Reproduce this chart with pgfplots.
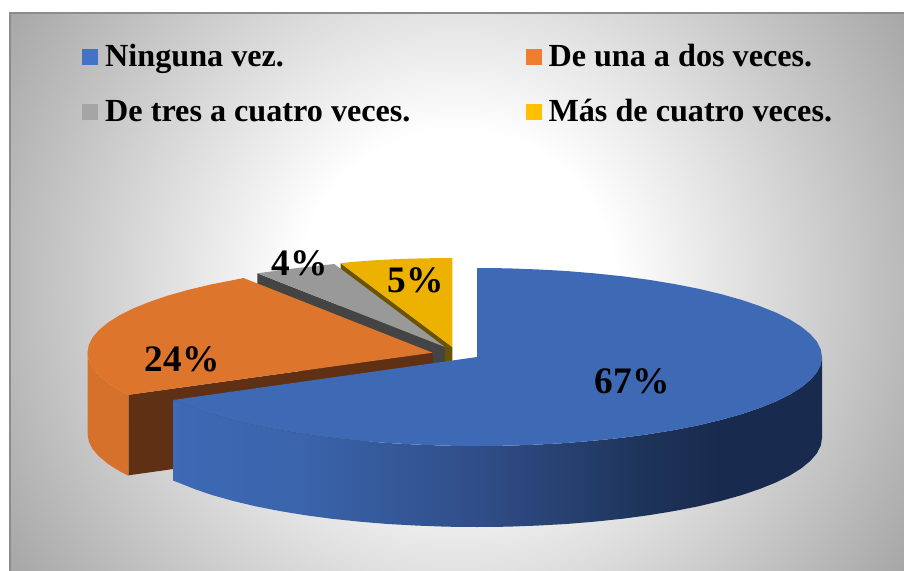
\documentclass[border=0pt]{standalone}
\usepackage{fontspec}
\setmainfont{Liberation Serif}
\usepackage{pgfplots}
\pgfplotsset{compat=1.18}
\definecolor{legblue}{HTML}{4472C4}
\definecolor{legorange}{HTML}{ED7D31}
\definecolor{leggray}{HTML}{A5A5A5}
\definecolor{legyellow}{HTML}{FFC000}
\definecolor{topblue}{HTML}{3E6AB5}
\definecolor{toporange}{HTML}{DD752C}
\definecolor{sideorange}{HTML}{D6712B}
\definecolor{faceorange}{HTML}{5F3014}
\definecolor{topgray}{HTML}{999999}
\definecolor{facegray}{HTML}{444444}
\definecolor{topyellow}{HTML}{EDB100}
\definecolor{faceyellow}{HTML}{6B5300}
\definecolor{frame}{HTML}{8C8C8C}
\definecolor{bgedge}{HTML}{A6A6A6}
\definecolor{sb0}{HTML}{3D69B5}
\definecolor{sb1}{HTML}{3A64AB}
\definecolor{sb2}{HTML}{2F4C85}
\definecolor{sb3}{HTML}{1D3358}
\definecolor{sb4}{HTML}{182B4E}
\pgfdeclareradialshading{bgshade}{\pgfpointorigin}{
  color(0bp)=(white); color(7.5bp)=(white); color(25bp)=(bgedge); color(50bp)=(bgedge)}
\pgfdeclarehorizontalshading{blueside}{100bp}{
  color(0bp)=(sb0); color(25bp)=(sb0); color(34.8bp)=(sb1); color(49.4bp)=(sb2);
  color(61.7bp)=(sb3); color(67.1bp)=(sb4); color(100bp)=(sb4)}

\begin{document}
\begin{tikzpicture}
\useasboundingbox (-9bp,0bp) rectangle (895bp,571bp);
\begin{axis}[
    scale only axis,
    width=895bp,
    height=559bp,
    xmin=9, xmax=904,
    ymin=12, ymax=571,
    y dir=reverse,
    hide axis,
    legend columns=2,
    legend cell align=left,
    legend style={
      at={(0.0816,0.9445)}, anchor=north west,
      draw=none, fill=none,
      font=\fontsize{32.3}{36}\selectfont\bfseries,
      inner sep=0pt, row sep=25bp,
      nodes={inner sep=0pt,text height=23bp,text depth=7bp},
      /tikz/every odd column/.append style={column sep=7bp},
      /tikz/every even column/.append style={column sep=115bp},
    },
    legend image code/.code={
      \path[#1] (0bp,-7bp) rectangle (16bp,9bp);
    },
    /pgf/number format/assume math mode=true,
  ]
  \addlegendimage{fill=legblue,draw=none}
  \addlegendimage{fill=legorange,draw=none}
  \addlegendimage{fill=leggray,draw=none}
  \addlegendimage{fill=legyellow,draw=none}

  % background
  \addplot[forget plot,shading=bgshade,draw=none] coordinates {
    (-73,-240) (987,-240) (987,820) (-73,820)} -- cycle;
  \addplot[forget plot,frame,line width=1.5bp] coordinates {
    (10,571) (10,13) (904,13)};

  % yellow slice
  \addplot[forget plot,fill=faceyellow,draw=none] coordinates {
    (340.7,263.3) (452.3,347) (452.3,427) (340.7,343)} -- cycle;
  \addplot[forget plot,fill=topyellow,draw=none] coordinates {
    (452.3,347) (452.3,258) (432.3,258.2) (412.3,258.6) (392.3,259.3)
    (372.3,260.4) (352.3,261.9) (340.7,263.3)} -- cycle;

  % gray slice
  \addplot[forget plot,fill=facegray,draw=none] coordinates {
    (257.3,273.3) (445,347) (445,427) (257.3,353)} -- cycle;
  \addplot[forget plot,fill=topgray,draw=none] coordinates {
    (445,347) (257.3,273.3) (275,271) (295,268.3) (315,266.1) (334.3,264)} -- cycle;

  % orange slice
  \addplot[forget plot,fill=sideorange,draw=none] coordinates {
    (128.5,394.8) (119.8,390.3) (108.3,383.1) (99.3,375.7) (92.7,368.2) (88.8,360.5) (87.5,352.7)
    (87.5,433.7) (88.8,441.5) (92.7,449.2) (99.3,456.7) (108.3,464.1) (119.8,471.3) (128.5,475.8)} -- cycle;
  \addplot[forget plot,fill=faceorange,draw=none] coordinates {
    (128.5,394.8) (432.5,352.7) (432.5,432.7) (128.5,475.3)} -- cycle;
  \addplot[forget plot,fill=toporange,draw=none] coordinates {
    (432.5,352.7) (128.5,394.8) (119.8,390.3) (108.3,383.1) (99.3,375.7) (92.7,368.2) (88.8,360.5)
    (87.5,352.7) (88.8,344.9) (92.7,337.2) (99.3,329.7) (108.3,322.3) (119.8,315.1) (133.7,308.2)
    (149.9,301.7) (168.2,295.5) (188.5,289.8) (210.7,284.5) (234.6,279.8) (243.5,278)} -- cycle;

  % blue slice
  \addplot[forget plot,shading=blueside,draw=none] coordinates {
    (822,357) (820.7,364.8) (816.8,372.5) (810.2,380) (801.2,387.4) (789.7,394.6) (775.8,401.5)
    (759.6,408) (741.3,414.2) (721,419.9) (698.8,425.2) (674.9,429.9) (649.5,434.1) (622.8,437.7)
    (595,440.6) (566.3,443) (536.9,444.6) (507.1,445.7) (477,446) (446.9,445.7) (417.1,444.6)
    (387.7,443) (359,440.6) (331.2,437.7) (304.5,434.1) (279.1,429.9) (255.2,425.2) (233,419.9)
    (212.7,414.2) (194.4,408) (178.2,401.5) (173,400)
    (173,480.5) (178.2,482.5) (194.4,489) (212.7,495.2) (233,500.9) (255.2,506.2) (279.1,510.9)
    (304.5,515.1) (331.2,518.7) (359,521.6) (387.7,524) (417.1,525.6) (446.9,526.7) (477,527)
    (507.1,526.7) (536.9,525.6) (566.3,524) (595,521.6) (622.8,518.7) (649.5,515.1) (674.9,510.9)
    (698.8,506.2) (721,500.9) (741.3,495.2) (759.6,489) (775.8,482.5) (789.7,475.6) (801.2,468.4)
    (810.2,461) (816.8,453.5) (820.7,445.8) (822,438)} -- cycle;
  \addplot[forget plot,fill=topblue,draw=none] coordinates {
    (477,357) (477,268) (507.1,268.3) (536.9,269.4) (566.3,271) (595,273.4) (622.8,276.3)
    (649.5,279.9) (674.9,284.1) (698.8,288.8) (721,294.1) (741.3,299.8) (759.6,306) (775.8,312.5)
    (789.7,319.4) (801.2,326.6) (810.2,334) (816.8,341.5) (820.7,349.2) (822,357)
    (820.7,364.8) (816.8,372.5) (810.2,380) (801.2,387.4) (789.7,394.6) (775.8,401.5)
    (759.6,408) (741.3,414.2) (721,419.9) (698.8,425.2) (674.9,429.9) (649.5,434.1) (622.8,437.7)
    (595,440.6) (566.3,443) (536.9,444.6) (507.1,445.7) (477,446) (446.9,445.7) (417.1,444.6)
    (387.7,443) (359,440.6) (331.2,437.7) (304.5,434.1) (279.1,429.9) (255.2,425.2) (233,419.9)
    (212.7,414.2) (194.4,408) (178.2,401.5) (173,400)} -- cycle;

  % percentages
  \addplot[forget plot,draw=none,
    point meta=explicit,
    nodes near coords={\pgfmathprintnumber{\pgfplotspointmeta}\%},
    nodes near coords style={anchor=center,inner sep=0pt,font=\fontsize{37.5}{40}\selectfont\bfseries},
  ] table[x=x,y=y,meta=pct] {
    x y pct
    632 381 67
    182 359 24
    299.5 263 4
    416 280 5
  };

  \addlegendentry{Ninguna vez.}
  \addlegendentry{De una a dos veces.}
  \addlegendentry{De tres a cuatro veces.}
  \addlegendentry{Más de cuatro veces.}
\end{axis}
\end{tikzpicture}
\end{document}
